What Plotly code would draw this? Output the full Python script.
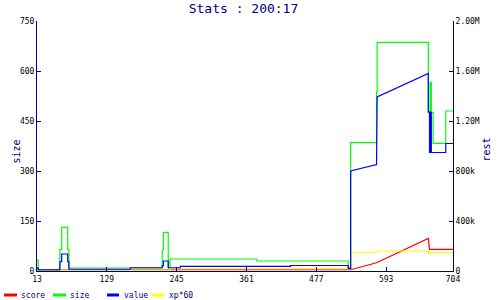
import plotly.graph_objects as go

# ---------------- data ----------------
x_ticks = [13, 129, 245, 361, 477, 593, 704]
size_ticks = [0, 150, 300, 450, 600, 750]
rest_tickvals = [0, 400000, 800000, 1200000, 1600000, 2000000]
rest_ticktext = ["0", "400k", "800k", "1.20M", "1.60M", "2.00M"]

# size (left axis), step series
size_x = [13, 15, 51, 54, 64, 66, 221, 223, 231, 234, 378, 530, 534, 577, 578, 663, 666, 668, 671, 692, 704]
size_y = [33, 2, 65, 131, 65, 9, 63, 116, 9, 36, 30, 11, 385, 536, 686, 476, 566, 476, 383, 480, 480]

# value (right axis)
value_x = [13, 15, 15, 51, 51, 54, 54, 64, 64, 66, 66, 168, 168, 221, 221, 223, 223, 231, 231, 251, 251,
           434, 434, 530, 530, 534, 534, 577, 578, 663, 663, 665, 665, 666, 666, 668, 668, 692, 692, 704]
value_y = [25e3, 25e3, 10e3, 10e3, 74e3, 74e3, 136e3, 136e3, 74e3, 74e3, 14e3, 14e3, 26e3, 26e3, 42e3, 42e3,
           80e3, 80e3, 26e3, 26e3, 37e3, 37e3, 44e3, 44e3, 20e3, 20e3, 801e3, 852e3, 1393e3, 1580e3,
           1273e3, 1273e3, 948e3, 948e3, 1270e3, 1270e3, 948e3, 948e3, 1020e3, 1020e3]

# score (right axis)
score_x = [13, 534, 577, 663, 665, 704]
score_y = [10e3, 10e3, 66e3, 261e3, 173e3, 173e3]

# xp*60 (right axis), step series
xp_x = [13, 234, 534, 577, 663, 665, 704]
xp_y = [8e3, 18e3, 150e3, 160e3, 141e3, 149e3, 149e3]

NAVY = "#000080"
FONT = "DejaVu Sans Mono"

fig = go.Figure()
fig.add_trace(go.Scatter(x=score_x, y=score_y, mode="lines", name="score", yaxis="y2",
                         line=dict(color="#ff0000", width=1.2)))
fig.add_trace(go.Scatter(x=xp_x, y=xp_y, mode="lines", name="xp*60", yaxis="y2",
                         line=dict(color="#ffff00", width=1.2, shape="hv")))
fig.add_trace(go.Scatter(x=size_x, y=size_y, mode="lines", name="size", yaxis="y",
                         line=dict(color="#00ff00", width=1.2, shape="hv")))
fig.add_trace(go.Scatter(x=value_x, y=value_y, mode="lines", name="value", yaxis="y2",
                         line=dict(color="#0000ff", width=1.2)))

L, R, T, B = 37, 47, 21, 29
W, H = 500, 300
pw, ph = W - L - R, H - T - B

def px(xv):
    return (xv - L) / pw

def py(yv):
    return (H - B - yv) / ph

axis_common = dict(showgrid=False, zeroline=False, showline=True, linecolor=NAVY, linewidth=1,
                   ticks="inside", ticklen=4, tickcolor=NAVY, tickwidth=1,
                   tickfont=dict(family=FONT, size=8, color="black"))

fig.update_layout(
    width=W, height=H,
    margin=dict(l=L, r=R, t=T, b=B, pad=0),
    paper_bgcolor="white", plot_bgcolor="white",
    showlegend=False,
    title=dict(text="Stats : 200:17", x=243.5 / W, xref="paper" if False else "container",
               y=1 - 8 / H, yanchor="middle", xanchor="center",
               font=dict(family=FONT, size=13, color=NAVY)),
    xaxis=dict(range=[13, 704], tickvals=x_ticks, **axis_common),
    yaxis=dict(range=[0, 750], tickvals=size_ticks, **axis_common),
    yaxis2=dict(range=[0, 2000000], tickvals=rest_tickvals, ticktext=rest_ticktext,
                overlaying="y", side="right", **axis_common),
)

# axis titles
fig.add_annotation(text="size", x=px(8), y=py(152), xref="paper", yref="paper", showarrow=False,
                   textangle=-90, font=dict(family=FONT, size=10, color=NAVY))
fig.add_annotation(text="rest", x=px(493), y=py(150), xref="paper", yref="paper", showarrow=False,
                   textangle=-90, font=dict(family=FONT, size=10, color=NAVY))

# manual legend
legend_items = [("score", "#ff0000", 4, 17, 19),
                ("size", "#00ff00", 53, 66, 68),
                ("value", "#0000ff", 107, 119, 122),
                ("xp*60", "#ffff00", 152, 164, 167)]
ly = 295
for name, col, x0, x1, tx in legend_items:
    fig.add_shape(type="line", xref="paper", yref="paper", x0=px(x0), x1=px(x1), y0=py(ly), y1=py(ly),
                  line=dict(color=col, width=3))
    fig.add_annotation(text=name, x=px(tx), y=py(ly), xref="paper", yref="paper", showarrow=False,
                       xanchor="left", yanchor="middle", font=dict(family=FONT, size=8, color=NAVY))

fig.write_html("out.html")
